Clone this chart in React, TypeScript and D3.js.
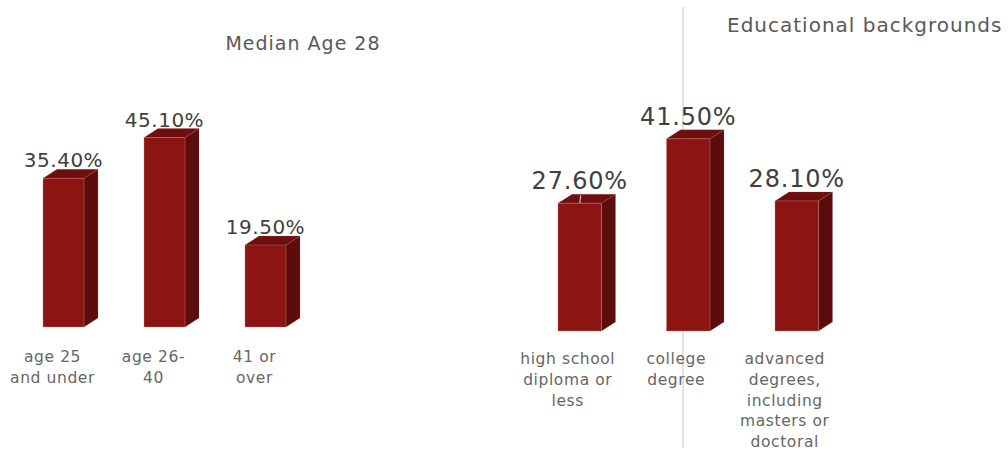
import React from "react";
import * as d3 from "d3";

const ageCategories = ["age 25\nand under", "age 26-\n40", "41 or\nover"];
const ageValues = [35.4, 45.1, 19.5];
const ageLabels = ["35.40%", "45.10%", "19.50%"];

const eduCategories = [
  "high school\ndiploma or\nless",
  "college\ndegree",
  "advanced\ndegrees,\nincluding\nmasters or\ndoctoral",
];
const eduValues = [27.6, 41.5, 28.1];
const eduLabels = ["27.60%", "41.50%", "28.10%"];

const W = 1008;
const H = 453;
const FONT = "'DejaVu Sans', Verdana, sans-serif";
const FRONT = "#8c1412";
const SIDE = "#5c0c0c";
const TOP = "#6e0f0e";

type PanelProps = {
  cats: string[];
  values: number[];
  labels: string[];
  x0: number;
  x1: number;
  padInner: number;
  baseY: number;
  pxPerUnit: number;
  valueFont: number;
  valueGap: number;
  catOffset: number;
  catBaseline: number;
  catSpacing: number;
  leader?: number[];
};

function Bar3DPanel(p: PanelProps) {
  const x = d3.scaleBand<string>().domain(p.cats).range([p.x0, p.x1]).paddingInner(p.padInner).paddingOuter(0);
  const y = d3.scaleLinear().domain([0, 50]).range([p.baseY, p.baseY - 50 * p.pxPerUnit]);
  const dx = 14;
  const dy = 9;
  const bw = x.bandwidth();
  return (
    <g>
      {p.cats.map((c, i) => {
        const bx = x(c) as number;
        const top = y(p.values[i]);
        const bottom = y(0);
        const cx = bx + bw / 2;
        const front = `M${bx},${top}H${bx + bw}V${bottom}H${bx}Z`;
        const side = `M${bx + bw},${top}L${bx + bw + dx},${top - dy}V${bottom - dy}L${bx + bw},${bottom}Z`;
        const lid = `M${bx},${top}L${bx + dx},${top - dy}H${bx + bw + dx}L${bx + bw},${top}Z`;
        const lines = c.split("\n");
        return (
          <g key={c}>
            <path d={side} fill={SIDE} stroke="#b06060" strokeOpacity={0.35} strokeWidth={0.6} />
            <path d={lid} fill={TOP} stroke="#b06060" strokeOpacity={0.35} strokeWidth={0.6} />
            <path d={front} fill={FRONT} stroke="#d08080" strokeOpacity={0.45} strokeWidth={0.8} />
            {p.leader && p.leader[i] ? (
              <line x1={cx + 1} x2={cx} y1={top - dy + 1} y2={top} stroke="#bfbfbf" strokeWidth={1.2} />
            ) : null}
            <text
              x={cx}
              y={top - dy - p.valueGap}
              textAnchor="middle"
              fontFamily={FONT}
              fontSize={p.valueFont}
              letterSpacing={p.valueFont > 21 ? 0.8 : 0.5}
              fill="#404040"
            >
              {p.labels[i]}
            </text>
            <text textAnchor="middle" fontFamily={FONT} fontSize={15.5} letterSpacing={0.6} fill="#666666">
              {lines.map((ln, j) => (
                <tspan key={j} x={cx + p.catOffset} y={p.catBaseline + j * p.catSpacing}>
                  {ln}
                </tspan>
              ))}
            </text>
          </g>
        );
      })}
    </g>
  );
}

export default function App() {
  return (
    <svg
      width={W}
      height={H}
      viewBox={`0 0 ${W} ${H}`}
      style={{ position: "absolute", left: 0, top: 0, background: "#ffffff" }}
    >
      <rect x={0} y={0} width={W} height={H} fill="#ffffff" />
      <line x1={683} x2={683} y1={7} y2={448} stroke="#d9d9d9" strokeWidth={1.5} />
      <text x={303} y={50} textAnchor="middle" fontFamily={FONT} fontSize={19} letterSpacing={1} fill="#595959">
        Median Age 28
      </text>
      <text x={727} y={32} textAnchor="start" fontFamily={FONT} fontSize={20} letterSpacing={1} fill="#595959">
        Educational backgrounds
      </text>
      <Bar3DPanel
        cats={ageCategories}
        values={ageValues}
        labels={ageLabels}
        x0={43}
        x1={286}
        padInner={60 / 101}
        baseY={327}
        pxPerUnit={4.2}
        valueFont={20}
        valueGap={2}
        catOffset={-11}
        catBaseline={362}
        catSpacing={21}
      />
      <Bar3DPanel
        cats={eduCategories}
        values={eduValues}
        labels={eduLabels}
        x0={558}
        x1={818.5}
        padInner={65 / 108.5}
        baseY={331}
        pxPerUnit={4.63}
        valueFont={24}
        valueGap={5}
        catOffset={-12}
        catBaseline={364}
        catSpacing={20.8}
        leader={[1, 0, 0]}
      />
    </svg>
  );
}
